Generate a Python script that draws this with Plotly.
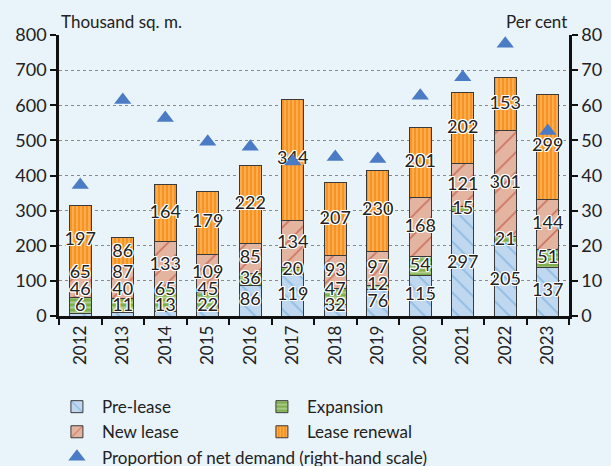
import plotly.graph_objects as go

years = ["2012", "2013", "2014", "2015", "2016", "2017", "2018", "2019", "2020", "2021", "2022", "2023"]
pre_lease = [6, 11, 13, 22, 86, 119, 32, 76, 115, 297, 205, 137]
expansion = [46, 40, 65, 45, 36, 20, 47, 12, 54, 15, 21, 51]
new_lease = [65, 87, 133, 109, 85, 134, 93, 97, 168, 121, 301, 144]
lease_renewal = [197, 86, 164, 179, 222, 344, 207, 230, 201, 202, 153, 299]
net_share = [37.3, 61.5, 56.4, 49.6, 48.2, 44.0, 45.3, 44.7, 62.7, 68.0, 77.5, 52.7]

FONT = "Lato"
BG = "#E9F3FA"

series = [
    ("Pre-lease", pre_lease, "#BFD8EF", "#5B9BD5", "\\", 12, 0.15),
    ("Expansion", expansion, "#7FAF4E", "#E4F0D8", "-", 5, 0.4),
    ("New lease", new_lease, "#E3B5A1", "#B8321F", "/", 14, 0.12),
    ("Lease renewal", lease_renewal, "#F7931E", "#FCDDB8", "|", 4, 0.33),
]

fig = go.Figure()
for name, vals, bg, fg, shape, size, sol in series:
    fig.add_trace(go.Bar(
        x=years, y=vals, name=name,
        marker=dict(color=bg, line=dict(color="#3a3a3a", width=1),
                    pattern=dict(shape=shape, fgcolor=fg, bgcolor=bg, size=size, solidity=sol)),
        hoverinfo="skip",
    ))

# label positions derived from stacked data (centres, spread to avoid overlap)
gap, floor = 48, 26
label_y = [[0] * len(years) for _ in series]
for j in range(len(years)):
    base = 0
    prev = None
    for i, (_, vals, *_r) in enumerate(series):
        c = base + vals[j] / 2
        p = max(c, floor) if prev is None else max(c, prev + gap)
        label_y[i][j] = p
        prev = p
        base += vals[j]

halo = ("1px 1px 0 #fff, -1px -1px 0 #fff, 1px -1px 0 #fff, -1px 1px 0 #fff, "
        "0 1px 0 #fff, 0 -1px 0 #fff, 1px 0 0 #fff, -1px 0 0 #fff")
for i, (name, vals, *_r) in enumerate(series):
    fig.add_trace(go.Scatter(
        x=years, y=label_y[i], mode="text", text=[str(v) for v in vals],
        textposition="middle center", showlegend=False, hoverinfo="skip",
        textfont=dict(family=FONT, size=18, color="#222222", shadow=halo),
    ))

fig.add_trace(go.Scatter(
    x=years, y=net_share, yaxis="y2", mode="markers",
    name="Proportion of net demand (right-hand scale)",
    marker=dict(symbol="triangle-up", size=15, color="#4A7BC4"),
    hoverinfo="skip",
))

axis_common = dict(showline=True, linecolor="#111111", linewidth=2.5, ticks="outside",
                   ticklen=6, tickwidth=2, tickcolor="#111111", zeroline=False,
                   tickfont=dict(size=18))

fig.update_layout(
    width=611, height=466,
    margin=dict(l=59, r=42, t=35, b=150, autoexpand=False),
    paper_bgcolor=BG, plot_bgcolor=BG,
    barmode="stack", bargap=0.48,
    font=dict(family=FONT, size=17, color="#222222"),
    showlegend=True,
    legend=dict(orientation="h", traceorder="normal", xref="container", x=0.085,
                xanchor="left", yref="container", y=0.165, yanchor="top",
                entrywidth=150, font=dict(size=17), bgcolor="rgba(0,0,0,0)",
                tracegroupgap=0, itemwidth=40),
    xaxis=dict(type="category", range=[-0.5, len(years) - 0.5], tickangle=-90,
               tickson="boundaries", showgrid=False,
               **{k: v for k, v in axis_common.items() if k != "tickfont"},
               tickfont=dict(size=17)),
    yaxis=dict(range=[0, 800], dtick=100, showgrid=True, gridcolor="#8a8a8a",
               griddash="dot", gridwidth=1, **axis_common),
    yaxis2=dict(range=[0, 80], dtick=10, overlaying="y", side="right", showgrid=False,
                **axis_common),
    annotations=[
        dict(text="Thousand sq. m.", xref="paper", yref="paper", x=0.0, y=1.0, xanchor="left",
             yanchor="bottom", showarrow=False, font=dict(size=17), yshift=1),
        dict(text="Per cent", xref="paper", yref="paper", x=1.0, y=1.0, xanchor="right",
             yanchor="bottom", showarrow=False, font=dict(size=17), yshift=1),
    ],
)

fig.write_html("out.html", config={"displayModeBar": False},
               post_script="document.body.style.margin='0';document.body.style.background='%s';" % BG)
